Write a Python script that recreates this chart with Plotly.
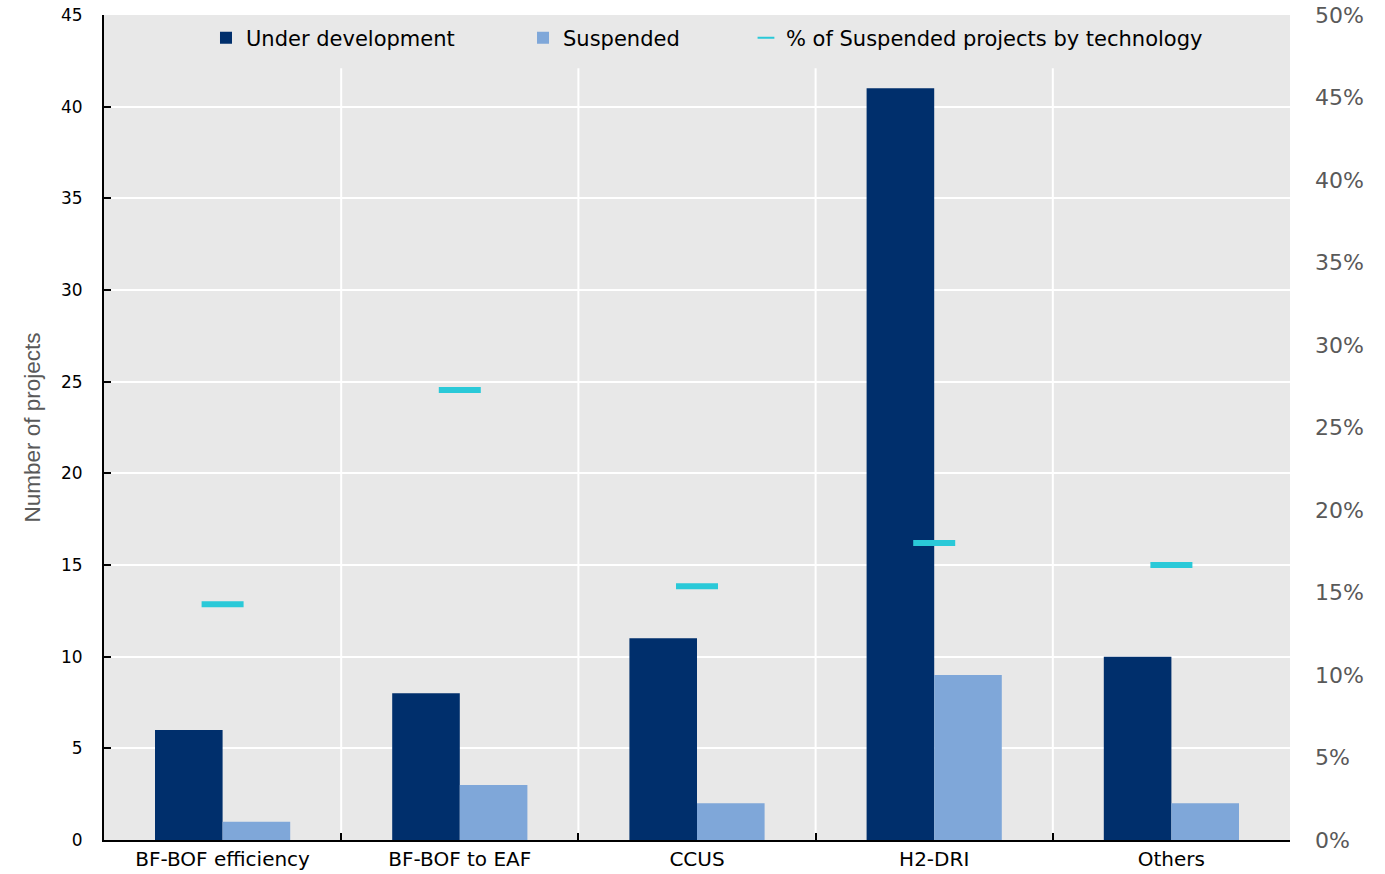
import plotly.graph_objects as go

# Project pipeline by steel decarbonisation technology
technologies = ["BF-BOF efficiency", "BF-BOF to EAF", "CCUS", "H2-DRI", "Others"]
under_development = [6, 8, 11, 41, 10]
suspended = [1, 3, 2, 9, 2]
# share of suspended projects in each technology (suspended / total)
pct_suspended = [s / (u + s) for u, s in zip(under_development, suspended)]

y_ticks = [0, 5, 10, 15, 20, 25, 30, 35, 40, 45]
y2_ticks = [0, 0.05, 0.10, 0.15, 0.20, 0.25, 0.30, 0.35, 0.40, 0.45, 0.50]

NAVY = "#002f6c"
LIGHT = "#7fa7d9"
CYAN = "#2ac9d8"
PANEL = "#e8e8e8"
GREY_TXT = "#595959"
FONT = "DejaVu Sans, Arial, sans-serif"

fig = go.Figure()
fig.add_trace(go.Bar(x=technologies, y=under_development, name="Under development",
                     marker=dict(color=NAVY, line=dict(width=0)), legend="legend"))
fig.add_trace(go.Bar(x=technologies, y=suspended, name="Suspended",
                     marker=dict(color=LIGHT, line=dict(width=0)), legend="legend2"))
fig.add_trace(go.Scatter(x=technologies, y=pct_suspended, yaxis="y2", mode="markers",
                         name="% of Suspended projects by technology", legend="legend3",
                         marker=dict(symbol="line-ew", size=30,
                                     line=dict(color=CYAN, width=6))))

# category separators, stopping below the legend strip
for b in [0.5, 1.5, 2.5, 3.5]:
    fig.add_shape(type="line", xref="x", yref="y", x0=b, x1=b, y0=0, y1=42.1,
                  line=dict(color="white", width=2), layer="below")

legend_style = dict(orientation="h", y=0.997, xanchor="left", yanchor="top",
                    bgcolor="rgba(0,0,0,0)", font=dict(family=FONT, size=21, color="black"),
                    itemsizing="constant")

fig.update_layout(
    width=1385, height=874,
    margin=dict(l=104, r=95, t=15, b=34, autoexpand=False),
    paper_bgcolor="white", plot_bgcolor=PANEL,
    font=dict(family=FONT, color="black"),
    barmode="group", bargap=0.43, bargroupgap=0,
    showlegend=True,
    legend=dict(x=0.086, **legend_style),
    legend2=dict(x=0.3533, **legend_style),
    legend3=dict(x=0.5413, **legend_style),
    xaxis=dict(type="category", tickson="boundaries", ticks="inside", ticklen=7,
               tickcolor="black", tickwidth=2, showline=True, linecolor="black",
               linewidth=2, showgrid=False, tickfont=dict(size=20, color="black"),
               ticklabelstandoff=0, range=[-0.5, 4.5], automargin=False),
    yaxis=dict(range=[0, 45], tickvals=y_ticks, ticks="inside", ticklen=7,
               tickcolor="black", tickwidth=2, showline=True, linecolor="black",
               linewidth=2, showgrid=True, gridcolor="white", gridwidth=1.5,
               zeroline=False, tickfont=dict(size=17, color="black"),
               ticklabelstandoff=16, automargin=False,
               title=dict(text="Number of projects",
                          font=dict(family="Liberation Sans, Arial, sans-serif",
                                    size=22.5, color=GREY_TXT),
                          standoff=14)),
    yaxis2=dict(overlaying="y", side="right", range=[0, 0.5], tickvals=y2_ticks,
                tickformat=".0%", showgrid=False, showline=False, zeroline=False,
                ticks="", ticklabelstandoff=24, automargin=False,
                tickfont=dict(size=22, color=GREY_TXT)),
)

fig.write_html("out.html")
